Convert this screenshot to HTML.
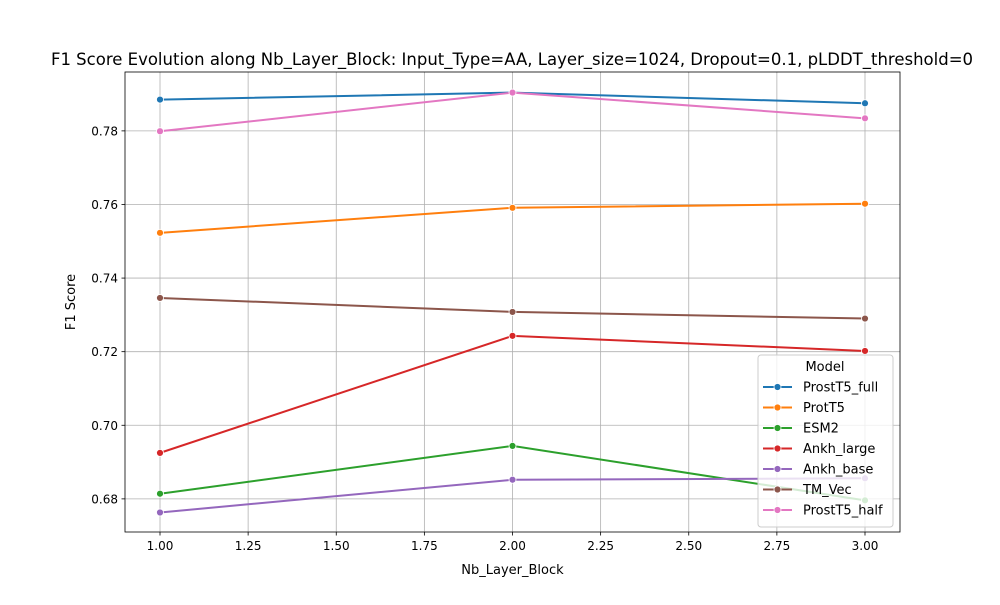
<!DOCTYPE html>
<html><head><meta charset="utf-8"><style>
body{margin:0;background:#fff;font-family:"Liberation Sans","DejaVu Sans",sans-serif;}
svg text{font-family:"DejaVu Sans","Liberation Sans",sans-serif;}
</style></head><body>
<svg id="chart" width="1000" height="600" xmlns="http://www.w3.org/2000/svg"></svg>
<script>
const xValues=[1,2,3];
const seriesNames=["ProstT5_full","ProtT5","ESM2","Ankh_large","Ankh_base","TM_Vec","ProstT5_half"];
const colors=["#1f77b4","#ff7f0e","#2ca02c","#d62728","#9467bd","#8c564b","#e377c2"];
const prostT5Full=[0.7885,0.7904,0.7875];
const protT5=[0.7523,0.7591,0.7602];
const esm2=[0.6814,0.6944,0.6796];
const ankhLarge=[0.6925,0.7243,0.7202];
const ankhBase=[0.6763,0.6852,0.6856];
const tmVec=[0.7346,0.7308,0.7290];
const prostT5Half=[0.7799,0.7904,0.7834];
const xTicks=[1.00,1.25,1.50,1.75,2.00,2.25,2.50,2.75,3.00];
const yTicks=[0.68,0.70,0.72,0.74,0.76,0.78];
const allSeries=[prostT5Full,protT5,esm2,ankhLarge,ankhBase,tmVec,prostT5Half];

const L=125,R=900,T=72,B=532;
const xMin=0.9007,xMax=3.0993,yMin=0.6710,yMax=0.7960;
const xs=v=>L+(v-xMin)/(xMax-xMin)*(R-L);
const ys=v=>B-(v-yMin)/(yMax-yMin)*(B-T);
const svg=document.getElementById('chart');
const NS="http://www.w3.org/2000/svg";
function mk(tag,attrs,parent){const e=document.createElementNS(NS,tag);for(const k in attrs)e.setAttribute(k,attrs[k]);(parent||svg).appendChild(e);return e;}

let t=mk('text',{x:512,y:65,'text-anchor':'middle','font-size':16.5,fill:'#000'});


t.textContent="F1 Score Evolution along Nb_Layer_Block: Input_Type=AA, Layer_size=1024, Dropout=0.1, pLDDT_threshold=0";

xTicks.forEach(v=>{const x=xs(v);
 let g=mk('line',{x1:x,x2:x,y1:T,y2:B,stroke:'#b0b0b0','stroke-width':0.8});
 
 
 mk('line',{x1:x,x2:x,y1:B,y2:B+3.5,stroke:'#000','stroke-width':0.8});
 let lb=mk('text',{x:x,y:B+18,'text-anchor':'middle','font-size':12});
 
 
 lb.textContent=v.toFixed(2);});
yTicks.forEach(v=>{const y=ys(v);
 let g=mk('line',{x1:L,x2:R,y1:y,y2:y,stroke:'#b0b0b0','stroke-width':0.8});
 
 
 mk('line',{x1:L-3.5,x2:L,y1:y,y2:y,stroke:'#000','stroke-width':0.8});
 let lb=mk('text',{x:L-7,y:y+4.5,'text-anchor':'end','font-size':12});
 
 
 lb.textContent=v.toFixed(2);});

let ax=mk('rect',{x:L,y:T,width:R-L,height:B-T,fill:'none',stroke:'#000','stroke-width':0.8});


let xt=mk('text',{x:(L+R)/2,y:574,'text-anchor':'middle','font-size':13});


xt.textContent="Nb_Layer_Block";
let yt=mk('text',{x:75,y:(T+B)/2,'text-anchor':'middle','font-size':13,transform:`rotate(-90 75 ${(T+B)/2})`});


yt.textContent="F1 Score";

allSeries.forEach((vals,i)=>{
 let p=mk('polyline',{points:vals.map((v,j)=>xs(xValues[j])+','+ys(v)).join(' '),fill:'none',stroke:colors[i],'stroke-width':2});
 
 
 vals.forEach((v,j)=>{let c=mk('circle',{cx:xs(xValues[j]),cy:ys(v),r:3.5,fill:colors[i],stroke:'#fff','stroke-width':0.8});
  
  });
});

let lg=mk('g',{});


mk('rect',{x:758,y:355,width:135,height:172,rx:3,fill:'#fff','fill-opacity':0.8,stroke:'#ccc','stroke-width':1},lg);
let lt=mk('text',{x:825,y:371,'text-anchor':'middle','font-size':13},lg);
lt.textContent="Model";
seriesNames.forEach((n,i)=>{const y=387+i*20.5;
 let e=mk('g',{},lg);
 
 
 mk('line',{x1:763,x2:792,y1:y,y2:y,stroke:colors[i],'stroke-width':2},e);
 mk('circle',{cx:777.5,cy:y,r:3.5,fill:colors[i],stroke:'#fff','stroke-width':0.8},e);
 let tx=mk('text',{x:803,y:y+4.5,'font-size':13},e);tx.textContent=n;});
</script>
</body></html>
